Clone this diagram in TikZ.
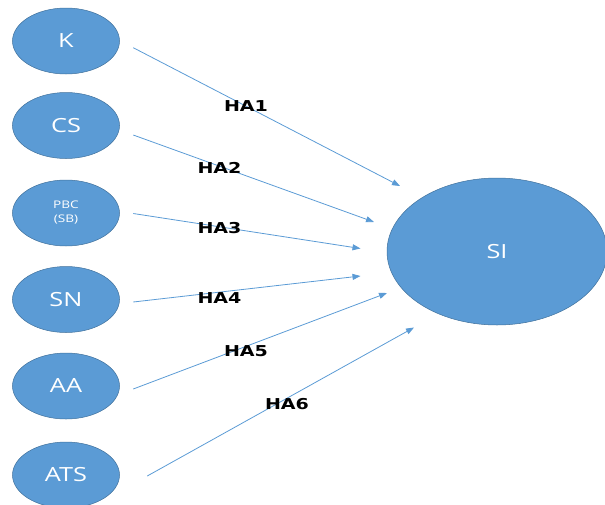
\documentclass[tikz,border=0pt]{standalone}
\usepackage{fontspec}
\usepackage{xcolor}
\usetikzlibrary{shapes.geometric,arrows.meta}
\newfontfamily\nodefont{Open Sans}[FakeStretch=1.3]
\newfontfamily\hypfont{DejaVu Sans}[FakeStretch=1.27]
\definecolor{nodeblue}{RGB}{91,155,213}
\definecolor{rimblue}{RGB}{65,113,156}

\tikzset{
    factor/.style={draw=rimblue, line width=0.5pt, ellipse, fill=nodeblue, text=white, inner sep=0pt,
        minimum width=107pt, minimum height=66pt, font=\nodefont\fontsize{19.5}{22}\selectfont},
    hyp/.style={inner sep=0pt, font=\hypfont\bfseries\fontsize{15}{18}\selectfont},
    link/.style={-{Triangle[length=8pt,width=6pt]}, draw=nodeblue, line width=0.8pt}
}

\begin{document}
\begin{tikzpicture}[x=1pt, y=-1pt]
    \clip (0,0) rectangle (605,504);

    % Factors
    \node[factor] (k) at (66,41) {K};
    \node[factor] (cs) at (66,125.5) {CS};
    \node[factor, align=center, font=\nodefont\fontsize{10.5}{14}\selectfont] (pbc) at (66,213) {PBC\\(SB)};
    \node[factor] (sn) at (66,299.5) {SN};
    \node[factor] (aa) at (66,386) {AA};
    \node[factor] (ats) at (66,475) {ATS};

    % Outcome
    \node[factor, minimum width=220pt, minimum height=147pt] (si) at (497,251.5) {SI};

    % Arrow ends
    \coordinate (t1) at (400,186);
    \coordinate (t2) at (374,222);
    \coordinate (t3) at (360.5,248.5);
    \coordinate (t4) at (360.5,276);
    \coordinate (t5) at (387,293);
    \coordinate (t6) at (414,327.5);

    % Arrows
    \draw[link] ([shift={(13.5,6.7)}]k.east) -- (t1);
    \draw[link] ([shift={(13.5,9.5)}]cs.east) -- (t2);
    \draw[link] ([shift={(13.5,0.5)}]pbc.east) -- (t3);
    \draw[link] ([shift={(13.5,2.5)}]sn.east) -- (t4);
    \draw[link] ([shift={(13.5,3)}]aa.east) -- (t5);
    \draw[link] ([shift={(27.5,1)}]ats.east) -- (t6);

    % Hypotheses
    \node[hyp] (ha1) at (246,106.5) {HA1};
    \node[hyp] (ha2) at (219.5,168) {HA2};
    \node[hyp] (ha3) at (219.5,228) {HA3};
    \node[hyp] (ha4) at (219.5,298) {HA4};
    \node[hyp] (ha5) at (246,351.5) {HA5};
    \node[hyp] (ha6) at (287,404) {HA6};
\end{tikzpicture}
\end{document}
